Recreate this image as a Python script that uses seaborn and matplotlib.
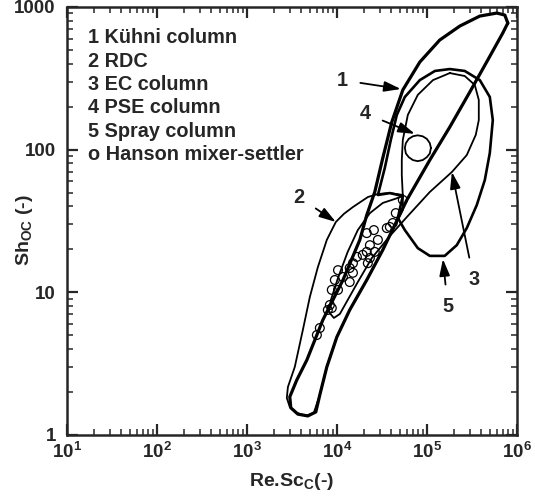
import matplotlib
matplotlib.use("Agg")
import matplotlib.pyplot as plt
import seaborn as sns
import pandas as pd

# ---------------- data (Re.Sc_C , Sh_OC) ----------------
# 1 Kuehni column envelope
kuhni_re = [794000, 736000, 600000, 388000, 233000, 139000, 83600, 54100, 40800, 32400,
            26400, 21500, 18000, 11700, 6990, 4640, 3590, 3000, 3080, 3690,
            4760, 5840, 6470, 7740, 10000, 13900, 21500, 32400, 60000, 108000,
            180000, 300000, 476000, 698000, 794000]
kuhni_sh = [771, 877, 906, 863, 735, 586, 411, 262, 156, 87.3,
            50.5, 34.8, 23.3, 12.2, 6.4, 3.35, 2.43, 1.85, 1.55, 1.40,
            1.36, 1.45, 1.91, 3.0, 4.86, 7.52, 12.2, 19.8, 44.4, 84.6,
            144, 253, 425, 656, 771]

# 2 RDC envelope
rdc_re = [54100, 38800, 28600, 22100, 15100, 12000, 9750, 8700, 7740, 6150, 5010, 4190,
          3410, 2860, 2780, 3000, 3590, 4530, 5550, 6470, 7740, 10000,
          13900, 21500, 32400, 44100, 54100, 54100]
rdc_sh = [48.1, 49.6, 48.9, 46.5, 39.6, 35.5, 31.1, 27.0, 23.3, 15.0, 9.27, 5.44,
          3.0, 2.17, 1.82, 1.57, 1.43, 1.36, 1.43, 1.91, 3.0, 4.86,
          7.52, 12.2, 19.8, 29.6, 37.8, 48.1]

# 3 EC column envelope
ec_re = [180000, 264000, 341000, 378000, 378000, 350000, 278000, 190000, 108000, 60000,
         38800, 24500, 17100, 13200, 10800, 9270, 8150, 8580, 10300, 13200,
         17100, 23300, 32400, 44100, 54100, 52700, 52700, 54100, 61500, 79400,
         117000, 180000]
ec_sh = [344, 328, 284, 223, 161, 127, 91.6, 69.7, 50.5, 33.7,
         24.8, 17.4, 11.8, 8.83, 7.05, 6.61, 7.28, 8.83, 12.6, 19.2,
         27.3, 35.9, 42.3, 45.1, 47.3, 66.4, 84.6, 117, 175, 242,
         307, 344]

# 4 PSE column (small closed region)
pse_re = [111000, 108000, 100000, 90000, 79000, 70000, 63000, 58500, 57000, 58500,
          63000, 70000, 79000, 90000, 100000, 108000, 111000]
pse_sh = [103, 111, 119, 124, 126, 124, 119, 111, 103, 94,
          88.5, 84.5, 83, 84.5, 88.5, 94, 103]

# 5 Spray column envelope
spray_re = [47600, 57000, 79400, 108000, 158000, 215000, 278000, 359000, 441000, 501000,
            541000, 501000, 388000, 264000, 180000, 123000, 83600, 57000, 46400, 39800,
            34100, 28600, 38800, 54100, 47600]
spray_sh = [33.2, 27.3, 20.4, 18.0, 18.0, 21.4, 28.2, 40.9, 61.2, 94.7,
            161, 234, 307, 356, 367, 356, 307, 234, 175, 117,
            74.3, 48.1, 49.6, 47.3, 33.2]

# Hanson mixer-settler points
hanson_re = [54100, 45200, 41900, 38800, 35900, 25800, 21500, 28600, 23300, 21500,
             26400, 19400, 23300, 22100, 16700, 15100, 13900, 15100, 10300, 11700,
             9500, 13900, 8790, 10300, 8360, 8790, 7940, 6470, 6000]
hanson_sh = [44.4, 35.9, 30.6, 28.7, 28.2, 27.3, 26.0, 23.3, 21.4, 19.2,
             19.2, 18.3, 17.4, 16.0, 17.7, 16.0, 14.8, 13.7, 14.3, 12.8,
             12.2, 11.8, 10.4, 10.4, 8.15, 7.76, 7.52, 5.62, 5.02]

legend_lines = ["1 Kühni column", "2 RDC", "3 EC column", "4 PSE column",
                "5 Spray column", "o Hanson mixer-settler"]

# ---------------- style ----------------
sns.set_style("ticks")
plt.rcParams['font.family'] = ['Liberation Sans', 'DejaVu Sans']
plt.rcParams['font.weight'] = 'bold'
plt.rcParams['mathtext.fontset'] = 'custom'
plt.rcParams['mathtext.rm'] = 'Liberation Sans:bold'
plt.rcParams['mathtext.it'] = 'Liberation Sans:bold'
plt.rcParams['mathtext.bf'] = 'Liberation Sans:bold'
plt.rcParams['mathtext.default'] = 'regular'

fig = plt.figure(figsize=(5.35, 4.96), dpi=100)
ax = fig.add_axes([0.125, 0.123, 0.841, 0.863])
ax.set_xscale('log')
ax.set_yscale('log')

curves = [(kuhni_re, kuhni_sh, 2.3), (rdc_re, rdc_sh, 1.3), (ec_re, ec_sh, 1.3),
          (pse_re, pse_sh, 1.3), (spray_re, spray_sh, 1.9)]
for xs, ys, lw in curves:
    df = pd.DataFrame({'re': xs, 'sh': ys})
    sns.lineplot(data=df, x='re', y='sh', sort=False, estimator=None,
                 color='black', linewidth=lw, ax=ax, solid_joinstyle='round')

sns.scatterplot(x=hanson_re, y=hanson_sh, marker='o', s=40, facecolor='none',
                edgecolor='black', linewidth=0.9, ax=ax)

ax.set_xlim(10, 1e6)
ax.set_ylim(1, 1000)
ax.set_yticks([1, 10, 100, 1000])
ax.set_yticklabels(['1', '10', '100', '1000'])
ax.tick_params(which='major', direction='in', length=8, width=1.6,
               top=True, right=True, labelsize=13.5)
ax.tick_params(which='minor', direction='in', length=4, width=1.1,
               top=True, right=True)
ax.tick_params(axis='x', pad=5)
ax.tick_params(axis='y', pad=8)
for sp in ax.spines.values():
    sp.set_linewidth(1.8)

ax.set_xlabel(r'Re.Sc$_\mathregular{C}$(-)', fontsize=14, fontweight='bold')
ax.set_ylabel(r'Sh$_\mathregular{OC}$ (-)', fontsize=14, fontweight='bold')
ax.xaxis.set_label_coords(0.5, -0.085)
ax.yaxis.set_label_coords(-0.07, 0.48)

# legend block written as text
for i, line in enumerate(legend_lines):
    ax.text(0.047, 0.928 - i * 0.0545, line, transform=ax.transAxes,
            fontsize=14.3, fontweight='bold', va='center', ha='left')

# numbered arrows
arrows = [('1', (51400, 266), (11400, 307)),
          ('2', (9750, 31.1), (3780, 46.5)),
          ('3', (190000, 69.7), (333000, 12.2)),
          ('4', (73600, 129), (20500, 180)),
          ('5', (151000, 17.1), (171000, 7.89))]
for lab, tip, txt in arrows:
    ax.annotate(lab, xy=tip, xytext=txt, fontsize=14.3, fontweight='bold',
                ha='center', va='center',
                arrowprops=dict(arrowstyle='-|>,head_length=0.7,head_width=0.22',
                                color='black', lw=1.3, shrinkA=7, shrinkB=0))

fig.savefig('out.png', dpi=100)
